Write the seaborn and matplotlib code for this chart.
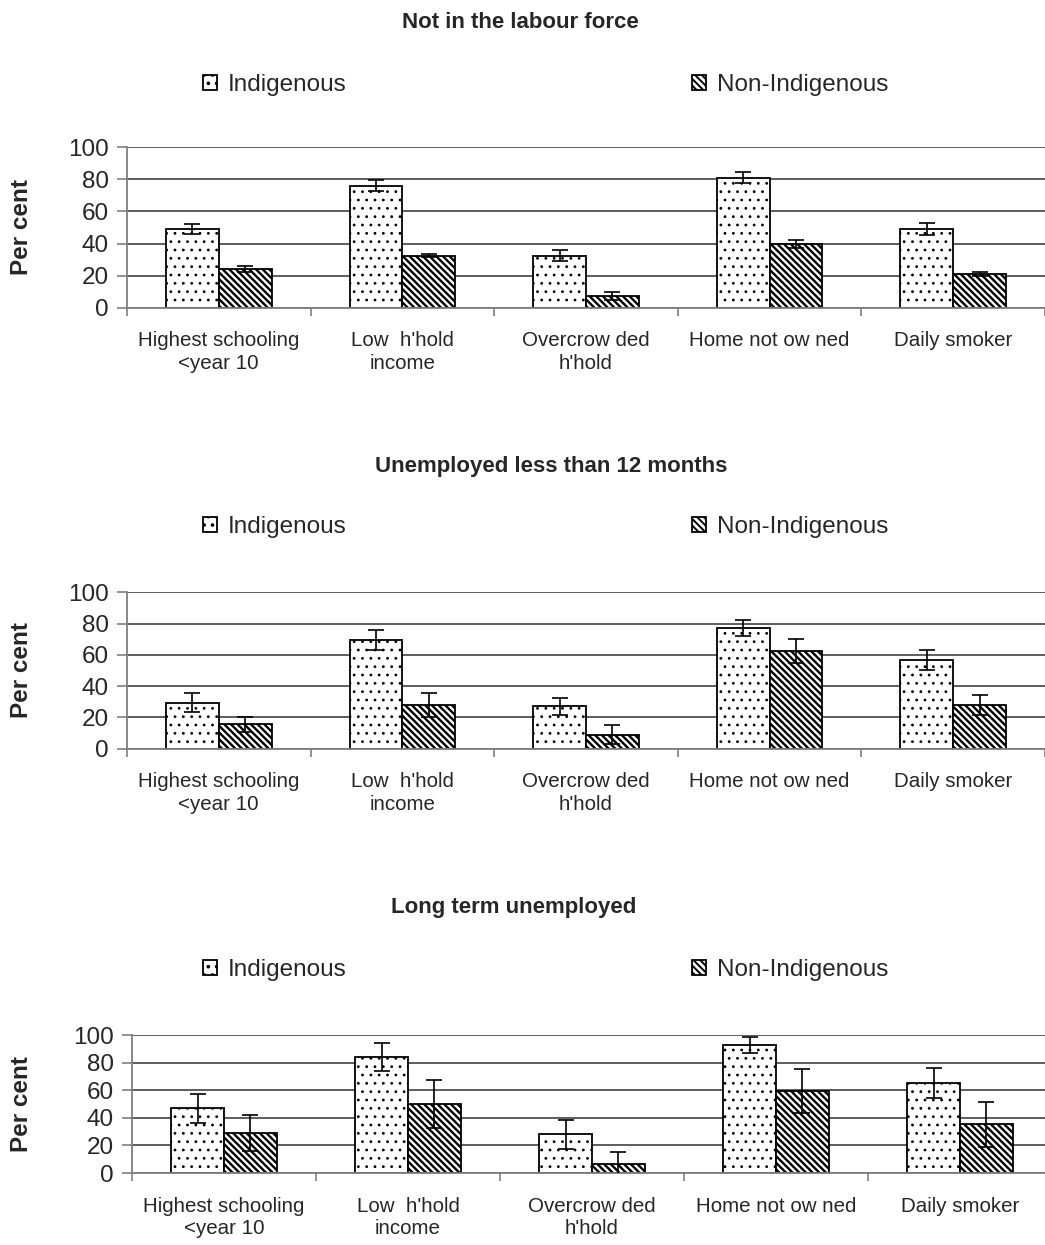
import numpy as np
import pandas as pd
import matplotlib
matplotlib.use("Agg")
import matplotlib.pyplot as plt
import seaborn as sns

# Categories shown along each x axis
categories = ["Highest schooling\n<year 10", "Low  h'hold\nincome",
              "Overcrow ded\nh'hold", "Home not ow ned", "Daily smoker"]
groups = ["Indigenous", "Non-Indigenous"]

titles = ["Not in the labour force", "Unemployed less than 12 months",
          "Long term unemployed"]

# Not in the labour force (per cent, with error margins)
nilf_indig = [49, 76, 32.5, 81, 49]
nilf_indig_err = [3.3, 3.5, 3.5, 3.5, 3.5]
nilf_non = [24, 32.5, 7.5, 40, 21]
nilf_non_err = [2, 1.2, 2.5, 2.5, 1.3]

# Unemployed less than 12 months
short_indig = [29.5, 69.5, 27, 77, 56.5]
short_indig_err = [6, 6.3, 5.2, 5, 6.4]
short_non = [15.5, 28, 9, 62.5, 28]
short_non_err = [5, 7.5, 6.3, 7.6, 6.4]

# Long term unemployed
long_indig = [47, 84, 28, 93, 65]
long_indig_err = [10.5, 10, 10.3, 5.8, 11]
long_non = [29, 50, 6.5, 59.5, 35.5]
long_non_err = [13, 17.7, 8.7, 16, 16.3]

yticks = [0, 20, 40, 60, 80, 100]

sns.set_style("white")
plt.rcParams["font.family"] = ["Liberation Sans", "DejaVu Sans"]
plt.rcParams["hatch.linewidth"] = 1.4

W, H = 1045, 1245
fig = plt.figure(figsize=(W / 100, H / 100), dpi=100)

# pixel layout: (left, right, top, bottom), title centre, legend y
layout = [
    dict(l=127, r=1045, t=147.3, b=307.7, tx=520, ty=22, ly=85),
    dict(l=127, r=1045, t=592.3, b=748.7, tx=551, ty=466, ly=527),
    dict(l=132, r=1052, t=1035, b=1173, tx=514, ty=908, ly=970),
]

panels = [
    (nilf_indig, nilf_indig_err, nilf_non, nilf_non_err),
    (short_indig, short_indig_err, short_non, short_non_err),
    (long_indig, long_indig_err, long_non, long_non_err),
]

hatches = ["..", "\\\\\\\\\\"]
hatch_widths = [0.8, 1.7]
grey = "#7f7f7f"

for (ind, ind_e, non, non_e), lay, title in zip(panels, layout, titles):
    rect = [lay["l"] / W, 1 - lay["b"] / H, (lay["r"] - lay["l"]) / W,
            (lay["b"] - lay["t"]) / H]
    ax = fig.add_axes(rect)

    df = pd.DataFrame({
        "category": categories * 2,
        "group": [groups[0]] * 5 + [groups[1]] * 5,
        "value": ind + non,
    })
    sns.barplot(data=df, x="category", y="value", hue="group",
                order=categories, hue_order=groups,
                palette=["white", "white"], width=0.576, errorbar=None,
                edgecolor="black", linewidth=1.3, legend=False, ax=ax)

    for cont, hatch, hw, errs in zip(ax.containers, hatches, hatch_widths,
                                     [ind_e, non_e]):
        xs, ys = [], []
        for bar in cont:
            bar.set_hatch(hatch)
            if hasattr(bar, "set_hatch_linewidth"):
                bar.set_hatch_linewidth(hw)
            xs.append(bar.get_x() + bar.get_width() / 2)
            ys.append(bar.get_height())
        ax.errorbar(xs, ys, yerr=errs, fmt="none", ecolor="black",
                    elinewidth=1.2, capsize=6, capthick=1.2, zorder=5)

    ax.set_xlim(-0.5, 4.5)
    ax.set_ylim(0, 100)
    ax.set_yticks(yticks)
    ax.set_xlabel("")
    ax.set_ylabel("")
    ax.yaxis.grid(True, color="#505050", linewidth=1.3)
    ax.set_axisbelow(True)
    for side in ["top", "right"]:
        ax.spines[side].set_visible(False)
    for side in ["left", "bottom"]:
        ax.spines[side].set_color(grey)
        ax.spines[side].set_linewidth(1.3)

    ax.tick_params(axis="y", direction="out", length=7, width=1.2,
                   color=grey, labelsize=17.5, pad=6, left=True)
    ax.set_xticks(np.arange(-0.5, 5, 1), minor=True)
    ax.tick_params(axis="x", which="major", length=0, labelsize=14.8, pad=17)
    ax.tick_params(axis="x", which="minor", direction="out", length=6,
                   width=1.2, color=grey, bottom=True)
    for lbl in ax.get_xticklabels():
        lbl.set_linespacing(1.25)

    cy = 1 - (lay["t"] + lay["b"]) / 2 / H
    fig.text(21.5 / W, cy, "Per cent", rotation=90, ha="center",
             va="center", fontsize=17.5, fontweight="bold")

    fig.text(lay["tx"] / W, 1 - lay["ty"] / H, title, ha="center",
             va="center", fontsize=16, fontweight="bold")

    handles = [ax.containers[0][0], ax.containers[1][0]]
    ax.legend(handles, groups, ncol=2, loc="center left",
              bbox_to_anchor=(203 / W, 1 - lay["ly"] / H),
              bbox_transform=fig.transFigure, frameon=False, fontsize=17.5,
              handlelength=0.58, handleheight=0.58, handletextpad=0.45,
              columnspacing=14.2, borderpad=0, borderaxespad=0)

fig.savefig("out.png", dpi=100, facecolor="white")
